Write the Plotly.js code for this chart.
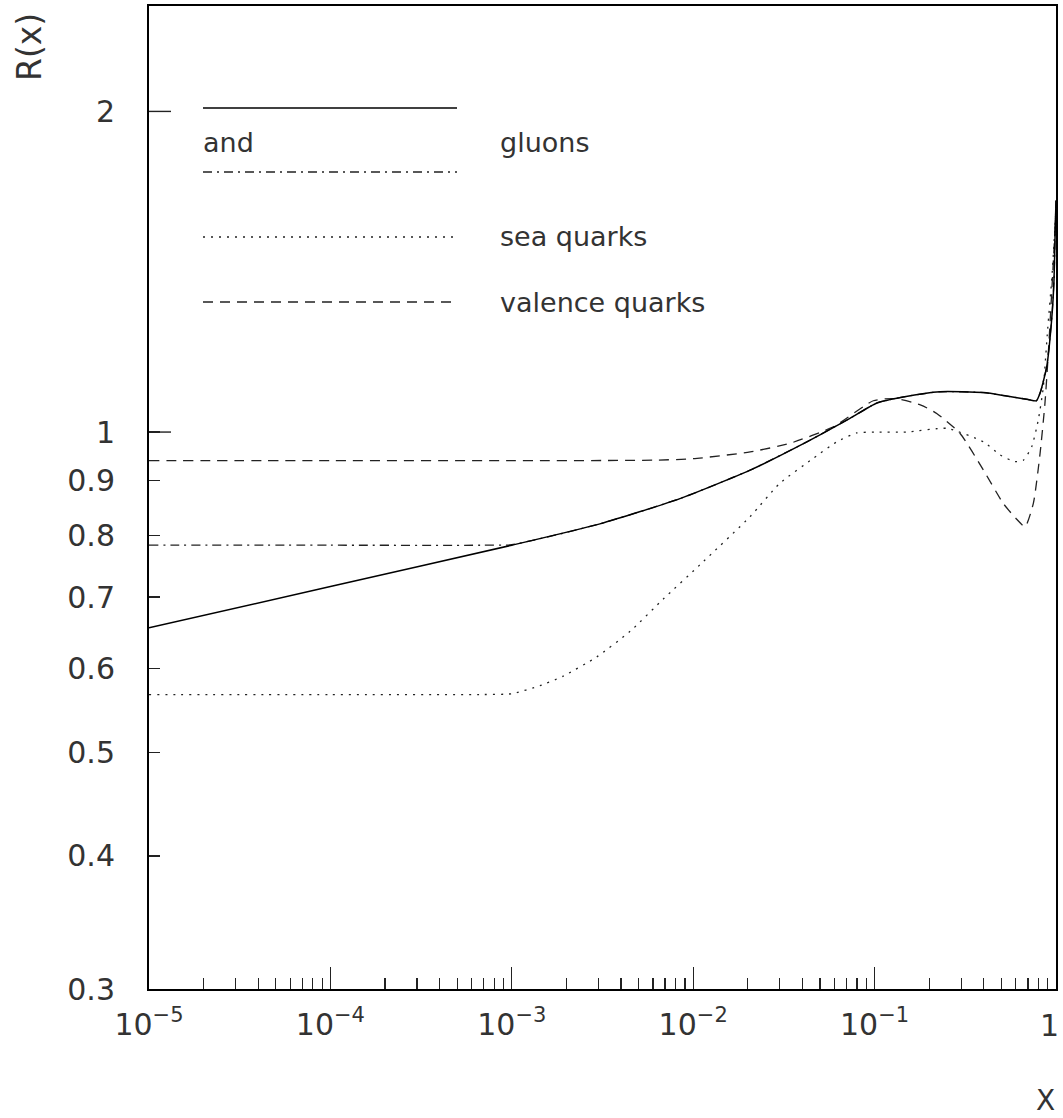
<!DOCTYPE html>
<html>
<head>
<meta charset="utf-8">
<script src="https://cdn.plot.ly/plotly-3.0.1.min.js"></script>
<style>
  html, body { margin: 0; padding: 0; background: #fff; }
  #chart { width: 1063px; height: 1118px; }
</style>
</head>
<body>
<div id="chart"></div>
<script>
// ---- data ----
const solidX = [1e-5, 1e-4, 1e-3, 3.06e-3, 8.45e-3, 0.0206, 0.0423, 0.0731, 0.103, 0.144, 0.230, 0.398, 0.535, 0.70, 0.78, 0.82, 0.889, 0.946, 0.975, 0.99, 1.0];
const solidY = [0.655, 0.716, 0.783, 0.820, 0.866, 0.921, 0.979, 1.030, 1.065, 1.079, 1.091, 1.089, 1.081, 1.073, 1.070, 1.090, 1.152, 1.274, 1.389, 1.55, 1.65];

const gluonX = [1e-5, 1e-4, 7e-4, 1e-3, 3.06e-3, 8.45e-3, 0.0206, 0.0423, 0.0731, 0.103, 0.144, 0.230, 0.398, 0.535, 0.70, 0.78, 0.82, 0.889, 0.946, 0.975, 0.99, 1.0];
const gluonY = [0.783, 0.783, 0.783, 0.784, 0.820, 0.866, 0.921, 0.979, 1.030, 1.065, 1.079, 1.091, 1.089, 1.081, 1.073, 1.070, 1.090, 1.152, 1.274, 1.389, 1.55, 1.65];

const seaX = [1e-5, 1e-4, 7e-4, 1e-3, 1.43e-3, 1.92e-3, 2.94e-3, 4.49e-3, 6.84e-3, 0.0114, 0.0206, 0.030, 0.046, 0.0618, 0.0796, 0.1, 0.15, 0.25, 0.398, 0.491, 0.595, 0.661, 0.735, 0.798, 0.850, 0.90, 0.95, 1.0];
const seaY = [0.567, 0.567, 0.567, 0.568, 0.578, 0.590, 0.615, 0.650, 0.697, 0.756, 0.833, 0.895, 0.945, 0.979, 0.998, 1.0, 1.0, 1.008, 0.979, 0.952, 0.938, 0.941, 0.969, 1.026, 1.10, 1.25, 1.40, 1.62];

const valX = [1e-5, 1e-4, 1e-3, 6e-3, 0.01, 0.0206, 0.0342, 0.0596, 0.0984, 0.13, 0.18, 0.220, 0.296, 0.398, 0.512, 0.60, 0.675, 0.75, 0.817, 0.869, 0.907, 0.966, 1.0];
const valY = [0.940, 0.940, 0.940, 0.941, 0.944, 0.958, 0.976, 1.012, 1.070, 1.075, 1.06, 1.041, 0.997, 0.921, 0.857, 0.830, 0.815, 0.857, 0.955, 1.064, 1.185, 1.44, 1.62];

const xTickVals = [1e-5, 1e-4, 1e-3, 1e-2, 1e-1, 1];
const xTickText = ['10<sup>\u22125</sup>', '10<sup>\u22124</sup>', '10<sup>\u22123</sup>', '10<sup>\u22122</sup>', '10<sup>\u22121</sup>', ''];
const xLastLabel = '1';
const yTickVals = [0.3, 0.4, 0.5, 0.6, 0.7, 0.8, 0.9, 1, 2];
const yTickText = ['0.3', '0.4', '0.5', '0.6', '0.7', '0.8', '0.9', '1', '2'];

const legendLabels = ['and', 'gluons', 'sea quarks', 'valence quarks'];

// ---- layout helpers ----
const xMinor = [];
for (let e = -5; e < 0; e++) for (let k = 2; k <= 9; k++) xMinor.push(k * Math.pow(10, e));

const FONT = '"DejaVu Sans", sans-serif';
const C = '#222';
const TC = '#333';
const SM = 0.55;

const traces = [
  {x: gluonX, y: gluonY, mode: 'lines', line: {color: C, width: 1.3, dash: '9px,5px,2px,5px', shape: 'spline', smoothing: SM}},
  {x: seaX, y: seaY, mode: 'lines', line: {color: C, width: 1.3, dash: '2px,6px', shape: 'spline', smoothing: SM}},
  {x: valX, y: valY, mode: 'lines', line: {color: C, width: 1.3, dash: '10px,7px', shape: 'spline', smoothing: SM}},
  {x: solidX, y: solidY, mode: 'lines', line: {color: '#000', width: 1.5, shape: 'spline', smoothing: SM}}
];

const L = 149, R = 1056, T = 6, B = 989;
const pw = R - L, ph = B - T;
const px = v => (v - L) / pw;
const py = v => (B - v) / ph;

const shapes = [
  // long ticks at 1 and 2
  {type: 'line', xref: 'paper', yref: 'y', x0: 0, x1: 22 / pw, y0: 1, y1: 1, line: {color: C, width: 1.4}},
  {type: 'line', xref: 'paper', yref: 'y', x0: 0, x1: 22 / pw, y0: 2, y1: 2, line: {color: C, width: 1.4}},
  // legend lines
  {type: 'line', xref: 'paper', yref: 'paper', x0: px(203), x1: px(457), y0: py(108), y1: py(108), line: {color: '#000', width: 1.5}},
  {type: 'line', xref: 'paper', yref: 'paper', x0: px(203), x1: px(457), y0: py(172), y1: py(172), line: {color: C, width: 1.3, dash: '9px,5px,2px,5px'}},
  {type: 'line', xref: 'paper', yref: 'paper', x0: px(203), x1: px(457), y0: py(237), y1: py(237), line: {color: C, width: 1.3, dash: '2px,6px'}},
  {type: 'line', xref: 'paper', yref: 'paper', x0: px(203), x1: px(457), y0: py(302), y1: py(302), line: {color: C, width: 1.3, dash: '10px,7px'}}
];

const tf = {family: FONT, size: 27, color: TC};
const annotations = [
  {xref: 'paper', yref: 'paper', x: px(201), y: py(143), xanchor: 'left', yanchor: 'middle', text: legendLabels[0], showarrow: false, font: tf},
  {xref: 'paper', yref: 'paper', x: px(498), y: py(143), xanchor: 'left', yanchor: 'middle', text: legendLabels[1], showarrow: false, font: tf},
  {xref: 'paper', yref: 'paper', x: px(498), y: py(237), xanchor: 'left', yanchor: 'middle', text: legendLabels[2], showarrow: false, font: tf},
  {xref: 'paper', yref: 'paper', x: px(498), y: py(302), xanchor: 'left', yanchor: 'middle', text: legendLabels[3], showarrow: false, font: tf},
  {xref: 'paper', yref: 'paper', x: px(30), y: py(47), xanchor: 'center', yanchor: 'middle', textangle: -90, text: 'R(x)', showarrow: false, font: {family: FONT, size: 33, color: TC}},
  {xref: 'paper', yref: 'paper', x: px(1045), y: py(1100), xanchor: 'center', yanchor: 'middle', text: 'X', showarrow: false, font: {family: FONT, size: 28, color: TC}},
  {xref: 'paper', yref: 'paper', x: px(1061), y: py(1025), xanchor: 'right', yanchor: 'middle', text: xLastLabel, showarrow: false, font: {family: FONT, size: 30, color: TC}}
];

const layout = {
  width: 1063, height: 1118,
  margin: {l: L, r: 1063 - R, t: T, b: 1118 - B, pad: 0},
  paper_bgcolor: '#fff', plot_bgcolor: '#fff',
  showlegend: false,
  xaxis: {
    type: 'log', range: [-5.000001, 0.000001],
    tickmode: 'array', tickvals: xTickVals, ticktext: xTickText,
    ticks: 'inside', ticklen: 22, tickwidth: 1.4, tickcolor: C,
    minor: {tickmode: 'array', tickvals: xMinor, ticks: 'inside', ticklen: 11, tickwidth: 1.2, tickcolor: C, showgrid: false},
    showgrid: false, zeroline: false,
    showline: true, mirror: true, linecolor: '#000', linewidth: 2,
    tickfont: {family: FONT, size: 30, color: TC},
    ticklabelstandoff: 8
  },
  yaxis: {
    type: 'log', range: [Math.log10(0.3), 0.4],
    tickmode: 'array', tickvals: yTickVals, ticktext: yTickText,
    ticks: 'inside', ticklen: 11, tickwidth: 1.4, tickcolor: C,
    showgrid: false, zeroline: false,
    showline: true, mirror: true, linecolor: '#000', linewidth: 2,
    tickfont: {family: FONT, size: 30, color: TC},
    ticklabelstandoff: 26
  },
  shapes: shapes,
  annotations: annotations
};

Plotly.newPlot('chart', traces, layout, {staticPlot: true, displayModeBar: false});
</script>
</body>
</html>
